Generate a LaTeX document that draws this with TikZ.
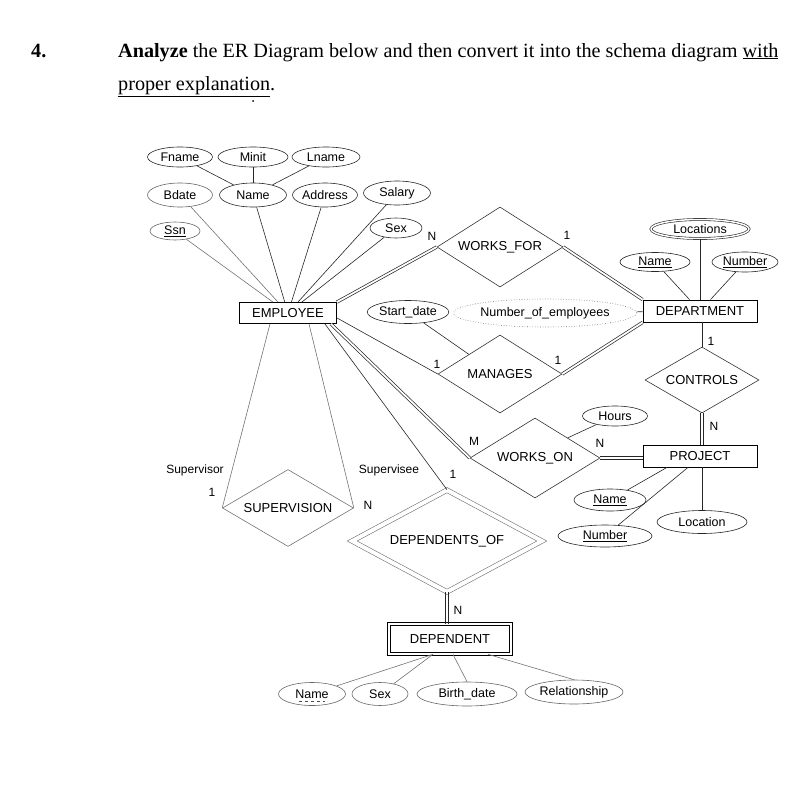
\documentclass[tikz,border=0pt]{standalone}
\usepackage{fontspec}
\setmainfont{Liberation Serif}
\setsansfont{Liberation Sans}
\usetikzlibrary{shapes.geometric,calc}
\tikzset{
  attr/.style={ellipse, draw=black!85, line width=0.6pt, inner sep=0pt, font=\sffamily\fontsize{12.5}{13}\selectfont},
  ent/.style={rectangle, draw, line width=0.8pt, inner sep=0pt, font=\sffamily\fontsize{13}{14}\selectfont},
  rel/.style={diamond, draw=black!80, line width=0.6pt, inner sep=0pt, aspect=1.6, font=\sffamily\fontsize{13}{14}\selectfont},
  conn/.style={draw=black!85, line width=0.6pt},
  faint/.style={draw=black!55, line width=0.6pt},
  dconn/.style={draw=black!85, line width=0.7pt, double, double distance=1.8pt},
  card/.style={font=\sffamily\fontsize{12}{13}\selectfont, inner sep=0pt},
  rolelab/.style={font=\sffamily\fontsize{12}{13}\selectfont, inner sep=0pt},
}
\begin{document}
\begin{tikzpicture}[x=1pt,y=-1pt]
\path[use as bounding box] (0,0) rectangle (793,790);

% header
\node[anchor=base west, inner sep=0pt, font=\fontsize{20.2}{23}\selectfont\bfseries] (num) at (31,57) {4.};
\node[anchor=base west, inner sep=0pt, font=\fontsize{20.2}{23}\selectfont] (line1) at (118,57)
  {\textbf{Analyze} the ER Diagram below and then convert it into the schema diagram \underline{with}};
\node[anchor=base west, inner sep=0pt, font=\fontsize{20.2}{23}\selectfont] (line2) at (118,90)
  {\underline{proper explanation}.};
\fill (253,101) circle (1);

% entities
\node[ent, minimum width=97, minimum height=21] (emp) at (288,313) {EMPLOYEE};
\node[ent, minimum width=114, minimum height=22] (dept) at (700,311) {DEPARTMENT};
\node[ent, minimum width=114, minimum height=22] (proj) at (700,456) {PROJECT};
\node[ent, double, double distance=2.5pt, line width=0.6pt, minimum width=122, minimum height=30] (dep) at (450,639) {DEPENDENT};

% relationships
\node[rel, minimum width=126, minimum height=80] (wf) at (500,247) {WORKS\_FOR};
\node[rel, minimum width=124, minimum height=78] (mg) at (500,374) {MANAGES};
\node[rel, minimum width=114, minimum height=66] (ct) at (702,380) {CONTROLS};
\node[rel, minimum width=130, minimum height=80] (wo) at (535,458) {WORKS\_ON};
\node[rel, draw=black!55, minimum width=131, minimum height=77] (sv) at (288,508) {SUPERVISION};
\node[rel, draw=black!55, double, double distance=4pt, minimum width=190, minimum height=102] (do) at (447,541) {DEPENDENTS\_OF};

% employee attributes
\node[attr, minimum width=65, minimum height=20] (fname) at (180,157) {Fname};
\node[attr, minimum width=70, minimum height=20] (minit) at (253,157) {Minit};
\node[attr, minimum width=68, minimum height=20] (lname) at (326,157) {Lname};
\node[attr, draw=black!60, minimum width=65, minimum height=24] (bdate) at (180,195) {Bdate};
\node[attr, minimum width=67, minimum height=24] (ename) at (253,195) {Name};
\node[attr, minimum width=65, minimum height=24] (addr) at (325,195) {Address};
\node[attr, minimum width=67, minimum height=24] (salary) at (397,193) {Salary};
\node[attr, draw=black!60, minimum width=50, minimum height=18] (ssn) at (175,231) {\underline{Ssn}};
\node[attr, minimum width=52, minimum height=20] (esex) at (396,228) {Sex};

% department attributes
\node[attr, double, double distance=1.5pt, minimum width=98, minimum height=19] (locs) at (700,229) {Locations};
\node[attr, minimum width=70, minimum height=19] (dname) at (655,262) {\underline{Name}};
\node[attr, minimum width=66, minimum height=20] (dnum) at (745,262) {\underline{Number}};
\node[attr, dotted, draw=black!60, minimum width=155, minimum height=28] (noe) at (545,313) {Number\_of\_employees};

% relationship attributes
\node[attr, minimum width=67, minimum height=23] (sdate) at (408,312) {Start\_date};
\node[attr, minimum width=65, minimum height=20] (hours) at (615,416) {Hours};

% project attributes
\node[attr, minimum width=72, minimum height=22] (pname) at (610,500) {\underline{Name}};
\node[attr, minimum width=94, minimum height=22] (pnum) at (605,536) {\underline{Number}};
\node[attr, minimum width=90, minimum height=23] (ploc) at (702,522) {Location};

% dependent attributes
\node[attr, draw=black!60, minimum width=67, minimum height=23] (dpname) at (312,694) {Name};
\draw[black!70, dashed, line width=0.5pt] ($(dpname.center)+(-13,7)$) -- ($(dpname.center)+(13,7)$);
\node[attr, draw=black!60, minimum width=56, minimum height=23] (dpsex) at (380,694) {Sex};
\node[attr, draw=black!60, minimum width=100, minimum height=24] (dpbirth) at (467,694) {Birth\_date};
\node[attr, draw=black!60, minimum width=98, minimum height=24] (dprel) at (574,692) {Relationship};

% attribute connectors
\draw[conn] (fname) -- (ename);
\draw[conn] (minit) -- (ename);
\draw[conn] (lname) -- (ename);
\draw[faint] (bdate) -- (emp);
\draw[faint] (ssn) -- (emp);
\draw[conn] (ename) -- (emp);
\draw[conn] (addr) -- (emp);
\draw[conn] (salary) -- (emp);
\draw[conn] (esex) -- (emp);

\draw[conn] (locs.south) -- (locs.south |- dept.north);
\draw[conn] (dname) -- (dept);
\draw[conn] (dnum) -- (dept);
\draw[conn] (noe) -- (dept);
\draw[conn] (sdate) -- (mg.north west);
\draw[conn] (wo.north east) -- (hours);
\draw[conn] (pname) -- ($(proj.south)+(-33,0)$);
\draw[conn] (pnum) -- ($(proj.south)+(-12,0)$);
\draw[conn] (ploc.north) -- (ploc.north |- proj.south);

\draw[faint] (dpname) -- ($(dep.south)+(-17,0)$);
\draw[faint] (dpsex) -- ($(dep.south)+(-17,0)$);
\draw[faint] (dpbirth.north) -- ($(dep.south)+(3,0)$);
\draw[faint] (dprel.north) -- ($(dep.south)+(38,0)$);

% relationship connectors
\draw[dconn] (emp.north east) -- (wf.west);
\draw[dconn] (wf.east) -- (dept.north west);
\draw[conn] ($(emp.south east)+(0,-6)$) -- (mg.west);
\draw[dconn] (mg.east) -- (dept.south west);
\draw[conn] (dept.south -| ct.north) -- (ct.north);
% CONTROLS -> PROJECT (double, total participation)
\draw[conn, transform canvas={xshift=1.4pt}] (ct.south) -- (ct.south |- proj.north);
\draw[conn, transform canvas={xshift=-1.4pt}] (ct.south) -- (ct.south |- proj.north);
\draw[dconn] ($(emp.south east)+(-6,0)$) -- (wo.west);
% WORKS_ON -> PROJECT (double)
\draw[conn, transform canvas={yshift=1.4pt}] (wo.east) -- (wo.east -| proj.west);
\draw[conn, transform canvas={yshift=-1.4pt}] (wo.east) -- (wo.east -| proj.west);
\draw[faint] ($(emp.south)+(-18,0)$) -- (sv.west);
\draw[faint] ($(emp.south)+(21,0)$) -- (sv.east);
\draw[conn] ($(emp.south east)+(-12,0)$) -- (do.north);
% DEPENDENTS_OF -> DEPENDENT (double)
\draw[conn, transform canvas={xshift=1.4pt}] (do.south) -- (do.south |- dep.north);
\draw[conn, transform canvas={xshift=-1.4pt}] (do.south) -- (do.south |- dep.north);

% cardinality and role labels
\node[card] (cwf1) at (432,236) {N};
\node[card] (cwf2) at (567,235) {1};
\node[card] (cmg1) at (437,364) {1};
\node[card] (cmg2) at (558,360) {1};
\node[card] (cct1) at (711,341) {1};
\node[card] (cct2) at (714,426) {N};
\node[card] (cwo1) at (474,441) {M};
\node[card] (cwo2) at (600,443) {N};
\node[card] (cdo1) at (453,474) {1};
\node[card] (cdo2) at (458,610) {N};
\node[rolelab] (rsup) at (195,470) {Supervisor};
\node[rolelab] (rsup1) at (212,492) {1};
\node[rolelab] (rsee) at (389,470) {Supervisee};
\node[rolelab] (rsee1) at (368,505) {N};
\end{tikzpicture}
\end{document}
